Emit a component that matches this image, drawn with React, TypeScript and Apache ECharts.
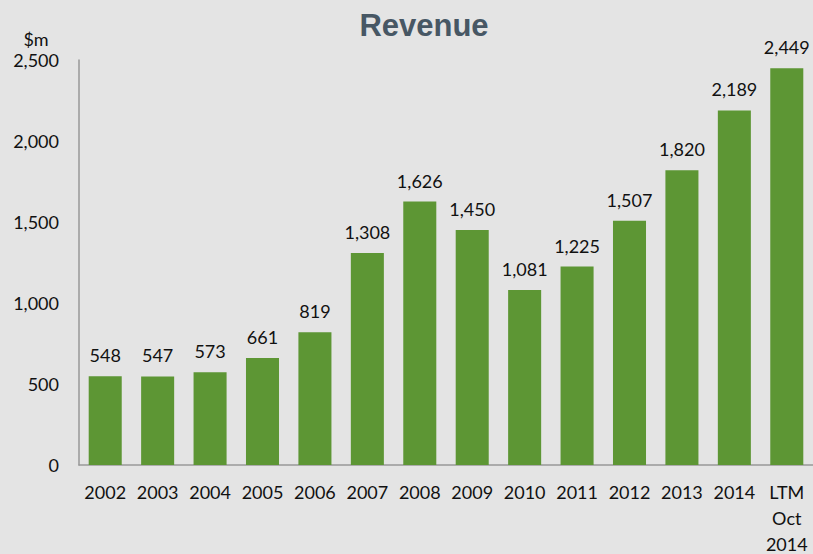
import React, { useEffect, useRef } from "react";
import * as echarts from "echarts";

const categories = ["2002", "2003", "2004", "2005", "2006", "2007", "2008", "2009", "2010", "2011", "2012", "2013", "2014", "LTM\nOct\n2014"];
const revenue = [548, 547, 573, 661, 819, 1308, 1626, 1450, 1081, 1225, 1507, 1820, 2189, 2449];
const yTicks = [0, 500, 1000, 1500, 2000, 2500];

const FONT = "Lato, 'Open Sans', sans-serif";

export default function App() {
  const ref = useRef<HTMLDivElement>(null);
  useEffect(() => {
    if (!ref.current) return;
    const chart = echarts.init(ref.current, null, { renderer: "svg" });
    chart.setOption({
      animation: false,
      backgroundColor: "#e4e4e4",
      graphic: [
        {
          type: "text",
          x: 424,
          y: 25,
          style: {
            text: "Revenue",
            fontFamily: "'Liberation Sans', Arial, sans-serif",
            fontWeight: "bold",
            fontSize: 31,
            fill: "#475764",
            align: "center",
            verticalAlign: "middle",
          },
        },
        {
          type: "text",
          x: 36,
          y: 39,
          style: { text: "$m", fontFamily: FONT, fontSize: 18, fill: "#111", align: "center", verticalAlign: "middle" },
        },
      ],
      grid: { left: 79, right: 0, top: 60, bottom: 89, outerBoundsMode: "none" },
      xAxis: {
        type: "category",
        data: categories,
        axisLine: { lineStyle: { color: "#999", width: 1.5 } },
        axisTick: { show: false },
        axisLabel: { fontFamily: FONT, fontSize: 18, color: "#111", margin: 14, lineHeight: 26, interval: 0 },
      },
      yAxis: {
        type: "value",
        min: yTicks[0],
        max: yTicks[yTicks.length - 1],
        interval: 500,
        splitLine: { show: false },
        axisLine: { show: true, lineStyle: { color: "#999", width: 1.5 } },
        axisTick: { show: false },
        axisLabel: {
          fontFamily: FONT,
          fontSize: 18,
          color: "#111",
          margin: 20,
          formatter: (v: number) => v.toLocaleString("en-US"),
        },
      },
      series: [
        {
          type: "bar",
          data: revenue,
          barWidth: "63%",
          itemStyle: { color: "#5d9634" },
          label: {
            show: true,
            position: "top",
            distance: 12,
            fontFamily: FONT,
            fontSize: 18,
            color: "#111",
            formatter: (p: any) => Number(p.value).toLocaleString("en-US"),
          },
        },
      ],
    });
    return () => chart.dispose();
  }, []);
  return <div ref={ref} style={{ position: "fixed", left: 0, top: 0, width: 813, height: 554 }} />;
}
